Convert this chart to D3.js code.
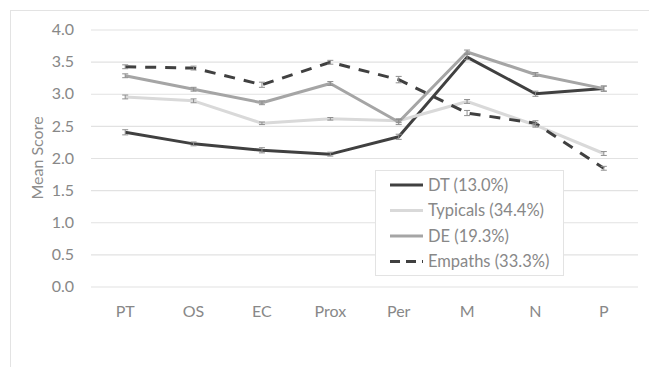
<!DOCTYPE html>
<html>
<head>
<meta charset="utf-8">
<script src="https://cdn.jsdelivr.net/npm/d3@7"></script>
<style>
  html, body { margin: 0; padding: 0; background: #fff; }
  svg { display: block; font-family: Lato, "Liberation Sans", sans-serif; }
</style>
</head>
<body>
<svg id="chart" width="649" height="367"></svg>
<script>
// Subscales along the x axis
const categories = ["PT", "OS", "EC", "Prox", "Per", "M", "N", "P"];

// Mean scores per group
const dtValues       = [2.40, 2.22, 2.12, 2.06, 2.33, 3.57, 3.00, 3.08];
const typicalsValues = [2.95, 2.89, 2.54, 2.61, 2.58, 2.88, 2.51, 2.07];
const deValues       = [3.28, 3.07, 2.86, 3.16, 2.56, 3.65, 3.30, 3.08];
const empathsValues  = [3.42, 3.40, 3.14, 3.49, 3.22, 2.70, 2.54, 1.84];

// Standard errors per group
const dtErrors       = [0.04, 0.03, 0.04, 0.03, 0.04, 0.04, 0.04, 0.04];
const typicalsErrors = [0.03, 0.03, 0.02, 0.02, 0.03, 0.03, 0.03, 0.03];
const deErrors       = [0.03, 0.03, 0.03, 0.03, 0.04, 0.03, 0.03, 0.04];
const empathsErrors  = [0.03, 0.03, 0.04, 0.03, 0.05, 0.04, 0.04, 0.03];

const seriesNames = ["DT (13.0%)", "Typicals (34.4%)", "DE (19.3%)", "Empaths (33.3%)"];
const yTicks = [0, 0.5, 1, 1.5, 2, 2.5, 3, 3.5, 4];

const series = [
  { name: seriesNames[0], values: dtValues,       errors: dtErrors,       color: "#404040", dash: null },
  { name: seriesNames[1], values: typicalsValues, errors: typicalsErrors, color: "#d9d9d9", dash: null },
  { name: seriesNames[2], values: deValues,       errors: deErrors,       color: "#a5a5a5", dash: null },
  { name: seriesNames[3], values: empathsValues,  errors: empathsErrors,  color: "#404040", dash: "11,9" }
];

const svg = d3.select("#chart");
const W = 649, H = 367;
const plot = { left: 91, right: 638, top: 29.5, bottom: 286.5 };

// Chart area border
svg.append("rect")
  .attr("x", 10.5).attr("y", 10.5)
  .attr("width", W + 20).attr("height", H + 20)
  .attr("fill", "#fff").attr("stroke", "#e3e3e3").attr("stroke-width", 1);

const x = d3.scaleBand().domain(categories).range([plot.left, plot.right]).padding(0);
const y = d3.scaleLinear().domain([0, 4]).range([plot.bottom, plot.top]);
const cx = c => x(c) + x.bandwidth() / 2;

// Gridlines + y tick labels
const yAxis = d3.axisLeft(y)
  .tickValues(yTicks)
  .tickFormat(d3.format(".1f"))
  .tickSize(-(plot.right - plot.left))
  .tickPadding(17);
const gy = svg.append("g").attr("transform", `translate(${plot.left},0)`).call(yAxis);
gy.select(".domain").remove();
gy.selectAll(".tick line").attr("stroke", "#e2e2e2").attr("stroke-width", 1.2);
gy.selectAll(".tick text").attr("fill", "#888").attr("font-size", 16).attr("font-family", "Lato, sans-serif");

// X category labels
const xAxis = d3.axisBottom(x).tickSize(0).tickPadding(19);
const gx = svg.append("g").attr("transform", `translate(0,${plot.bottom})`).call(xAxis);
gx.select(".domain").remove();
gx.selectAll(".tick text").attr("fill", "#888").attr("font-size", 16).attr("font-family", "Lato, sans-serif");

// Y axis title
svg.append("text")
  .attr("transform", `translate(43,${(plot.top + plot.bottom) / 2}) rotate(-90)`)
  .attr("text-anchor", "middle")
  .attr("fill", "#8c8c8c")
  .attr("font-size", 16)
  .text("Mean Score");

// Lines
const line = d3.line()
  .x((d, i) => cx(categories[i]))
  .y(d => y(d));

series.forEach(s => {
  svg.append("path")
    .datum(s.values)
    .attr("d", line)
    .attr("fill", "none")
    .attr("stroke", s.color)
    .attr("stroke-width", 3)
    .attr("stroke-linejoin", "round")
    .attr("stroke-dasharray", s.dash);
});

// Error bars
series.forEach(s => {
  const g = svg.append("g").attr("stroke", "#8f8f8f").attr("stroke-width", 1);
  s.values.forEach((v, i) => {
    const px = cx(categories[i]);
    const y0 = y(v - s.errors[i]), y1 = y(v + s.errors[i]);
    g.append("line").attr("x1", px).attr("x2", px).attr("y1", y0).attr("y2", y1);
    g.append("line").attr("x1", px - 3).attr("x2", px + 3).attr("y1", y0).attr("y2", y0);
    g.append("line").attr("x1", px - 3).attr("x2", px + 3).attr("y1", y1).attr("y2", y1);
  });
});

// Legend
const legend = svg.append("g");
legend.append("rect")
  .attr("x", 375.5).attr("y", 170.5)
  .attr("width", 188).attr("height", 105)
  .attr("fill", "#fff").attr("stroke", "#e3e3e3");
const rowY = [185, 210.5, 236, 261.5];
series.forEach((s, i) => {
  legend.append("line")
    .attr("x1", 390).attr("x2", 423)
    .attr("y1", rowY[i]).attr("y2", rowY[i])
    .attr("stroke", s.color).attr("stroke-width", 3)
    .attr("stroke-dasharray", s.dash ? "10,6" : null);
  legend.append("text")
    .attr("x", 428).attr("y", rowY[i])
    .attr("dy", "0.35em")
    .attr("fill", "#888")
    .attr("font-size", 16.5)
    .text(s.name);
});
</script>
</body>
</html>
